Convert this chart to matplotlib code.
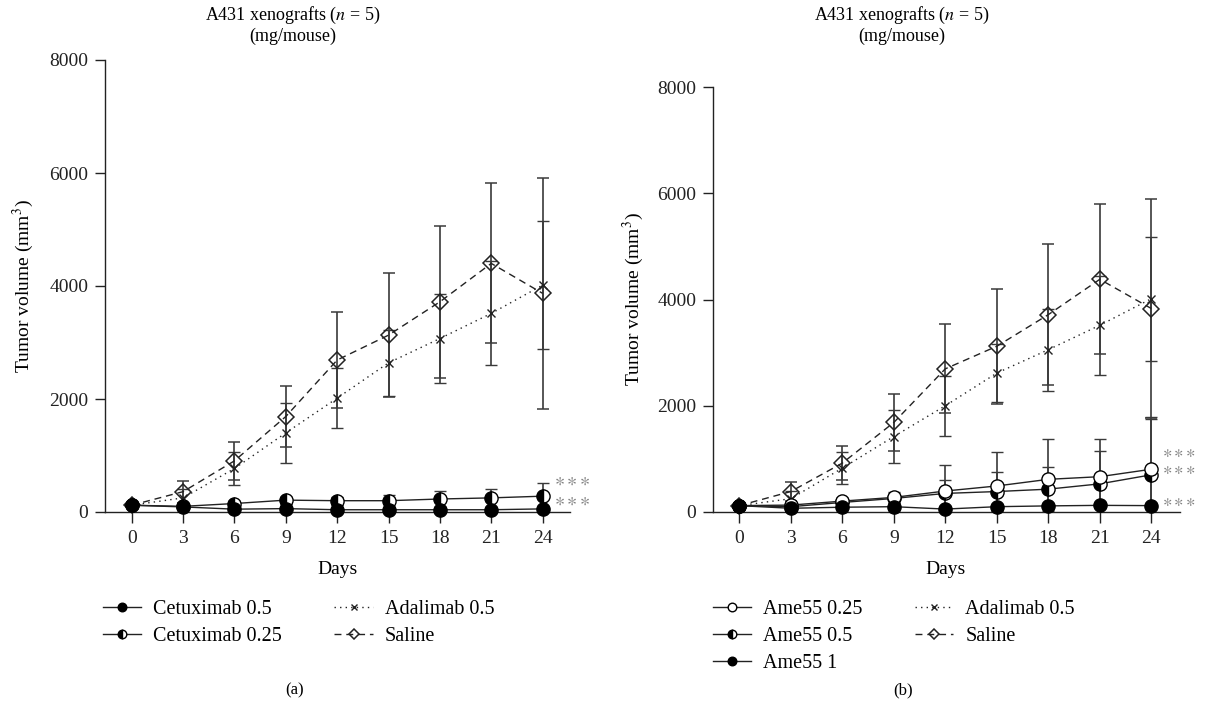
import numpy as np
import matplotlib
matplotlib.use("Agg")
import matplotlib.pyplot as plt

plt.rcParams['font.family'] = ['Liberation Serif', 'DejaVu Serif']
plt.rcParams['mathtext.fontset'] = 'stix'

days = [0, 3, 6, 9, 12, 15, 18, 21, 24]

# panel (a)
cetux05 = [120, 90, 50, 60, 40, 40, 40, 40, 55]
cetux05_err = [20, 20, 15, 20, 15, 15, 15, 15, 20]
cetux025 = [120, 100, 150, 210, 200, 200, 230, 250, 280]
cetux025_err = [20, 30, 40, 60, 70, 105, 145, 165, 235]
ada_a = [120, 250, 770, 1400, 2015, 2640, 3070, 3515, 4015]
ada_a_err = [30, 150, 290, 530, 525, 590, 780, 920, 1130]
saline_a = [120, 360, 905, 1690, 2690, 3130, 3720, 4400, 3870]
saline_a_err = [30, 195, 335, 545, 845, 1100, 1345, 1415, 2045]
stars_a = [548, 200]

# panel (b)
ame025 = [120, 130, 205, 275, 395, 490, 615, 665, 805]
ame025_err = [20, 40, 60, 105, 490, 645, 760, 710, 975]
ame05 = [120, 100, 180, 255, 350, 385, 430, 530, 700]
ame05_err = [20, 30, 50, 80, 255, 365, 415, 610, 1050]
ame1 = [120, 70, 90, 100, 55, 100, 115, 125, 120]
ame1_err = [20, 15, 20, 20, 15, 20, 20, 20, 20]
ada_b = [120, 250, 825, 1420, 2000, 2615, 3055, 3515, 4015]
ada_b_err = [30, 150, 300, 500, 565, 540, 775, 930, 1170]
saline_b = [120, 385, 920, 1685, 2695, 3120, 3715, 4380, 3830]
saline_b_err = [30, 175, 325, 540, 835, 1080, 1330, 1415, 2055]
stars_b = [1125, 795, 194]

yticks = [0, 2000, 4000, 6000, 8000]
xticks = days

LC = '#222222'
EC = '#3a3a3a'
FS = 14
STARS = r'${\ast}\,{\ast}\,{\ast}$'


def series(ax, y, err, kind, label):
    ''' trace une série avec barres d'erreur, renvoie la ligne pour la légende '''
    common = dict(yerr=err, ecolor=EC, elinewidth=1.2, capsize=4, capthick=1.2,
                  color=LC, lw=1.0, label=label)
    if kind == 'saline':
        c = ax.errorbar(days, y, marker='D', ms=8, mfc='none', mec=LC, mew=1.1,
                        ls=(0, (5, 3.5)), zorder=2, **common)
    elif kind == 'ada':
        c = ax.errorbar(days, y, marker='x', ms=6, mec=LC, mew=1.0,
                        ls=(0, (1, 3)), zorder=2, **common)
    elif kind == 'full':
        c = ax.errorbar(days, y, marker='o', ms=9.5, mfc='black', mec='black',
                        ls='-', zorder=4, **common)
    elif kind == 'half':
        c = ax.errorbar(days, y, marker='o', ms=9.5, mfc='black', mec='black',
                        fillstyle='left', markerfacecoloralt='white', mew=1.0,
                        ls='-', zorder=3, **common)
    else:
        c = ax.errorbar(days, y, marker='o', ms=9.5, mfc='white', mec='black',
                        mew=1.0, ls='-', zorder=3, **common)
    # les marqueurs débordent sous l'axe, pas les barres d'erreur
    c[0].set_clip_on(False)
    return c[0]


def style_axes(ax, xlim):
    ax.set_xlim(*xlim)
    ax.set_ylim(0, 8000)
    ax.set_xticks(xticks)
    ax.set_yticks(yticks)
    ax.set_yticklabels([str(t) for t in yticks])
    for s in ['top', 'right']:
        ax.spines[s].set_visible(False)
    for s in ['left', 'bottom']:
        ax.spines[s].set_color(LC)
        ax.spines[s].set_linewidth(1.0)
    ax.tick_params(direction='out', length=7, width=1.0, colors=LC,
                   labelsize=FS, pad=5)
    ax.tick_params(axis='x', length=8)
    ax.set_xlabel('Days', fontsize=FS)
    ax.set_ylabel('Tumor volume (mm$^3$)', fontsize=FS)


def legend(ax, handles, labels, x0):
    ax.legend(handles, labels, ncol=2, frameon=False,
              loc='upper left', bbox_to_anchor=(x0 / 1212, 1 - 600 / 707),
              bbox_transform=fig.transFigure, borderpad=0, borderaxespad=0,
              fontsize=14.5, handlelength=1.9, handletextpad=0.6, columnspacing=2.6,
              labelspacing=0.4, markerscale=0.65)


fig = plt.figure(figsize=(12.12, 7.07), dpi=100)
axa = fig.add_axes([105 / 1212, 195 / 707, 465 / 1212, 452 / 707])
axb = fig.add_axes([713 / 1212, 195 / 707, 467 / 1212, 425 / 707])

# (a)
l_sal = series(axa, saline_a, saline_a_err, 'saline', 'Saline')
l_ada = series(axa, ada_a, ada_a_err, 'ada', 'Adalimab 0.5')
l_c025 = series(axa, cetux025, cetux025_err, 'half', 'Cetuximab 0.25')
l_c05 = series(axa, cetux05, cetux05_err, 'full', 'Cetuximab 0.5')
style_axes(axa, (-1.56, 25.6))
axa.xaxis.set_label_coords(0.499, -0.109)
axa.yaxis.set_label_coords(-0.148, 0.5)
for s in stars_a:
    axa.text(24.65, s, STARS, color='#808080', fontsize=14,
             va='center', ha='left')
legend(axa, [l_c05, l_c025, l_ada, l_sal],
       ['Cetuximab 0.5', 'Cetuximab 0.25', 'Adalimab 0.5', 'Saline'], 103)

# (b)
m_sal = series(axb, saline_b, saline_b_err, 'saline', 'Saline')
m_ada = series(axb, ada_b, ada_b_err, 'ada', 'Adalimab 0.5')
m_05 = series(axb, ame05, ame05_err, 'half', 'Ame55 0.5')
m_025 = series(axb, ame025, ame025_err, 'open', 'Ame55 0.25')
m_1 = series(axb, ame1, ame1_err, 'full', 'Ame55 1')
style_axes(axb, (-1.53, 25.67))
axb.xaxis.set_label_coords(0.497, -0.115)
axb.yaxis.set_label_coords(-0.143, 0.5)
for s in stars_b:
    axb.text(24.65, s, STARS, color='#808080', fontsize=13,
             va='center', ha='left')
legend(axb, [m_025, m_05, m_1, m_ada, m_sal],
       ['Ame55 0.25', 'Ame55 0.5', 'Ame55 1', 'Adalimab 0.5', 'Saline'], 713)

# titres et étiquettes
for cx in [293, 902]:
    fig.text(cx / 1212, 1 - 25 / 707, 'A431 xenografts ($n$ = 5)\n(mg/mouse)',
             ha='center', va='center', fontsize=13, linespacing=1.15)
fig.text(295 / 1212, 1 - 690 / 707, '(a)', ha='center', va='center', fontsize=12)
fig.text(903 / 1212, 1 - 690 / 707, '(b)', ha='center', va='center', fontsize=12)

fig.savefig('out.png', dpi=100)
